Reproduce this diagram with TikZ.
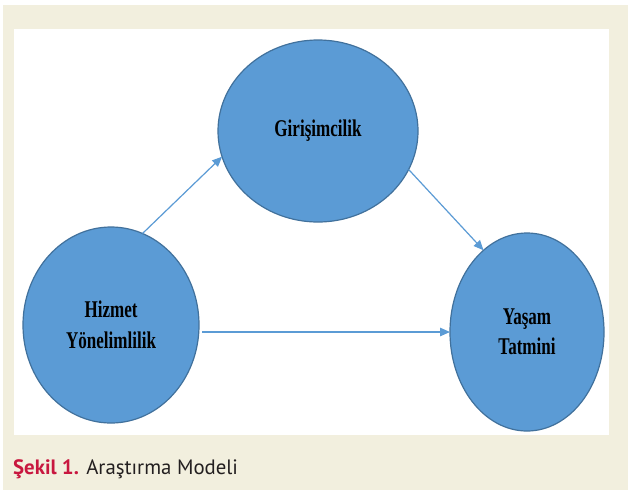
\documentclass[tikz,border=0pt]{standalone}
\usepackage{fontspec}
\usetikzlibrary{arrows.meta, shapes.geometric}
\newfontfamily\nodefont[FakeStretch=0.71]{Liberation Serif Bold}
\newfontfamily\capfont{PT Sans}
\definecolor{fond}{HTML}{F2EFDE}
\definecolor{bleu}{HTML}{5B9BD5}
\definecolor{bord}{HTML}{41719C}
\definecolor{titre}{HTML}{C8173F}
\definecolor{texte}{HTML}{231F20}
\tikzset{
  bulle/.style={ellipse, draw=bord, fill=bleu, line width=1.2pt, inner sep=0pt, outer sep=0pt,
    align=center, font=\nodefont\fontsize{24}{30.5}\selectfont},
  fleche/.style={draw=bleu, line width=1.2pt, -{Triangle[length=10pt,width=8.5pt]}}
}
\begin{document}
\begin{tikzpicture}[x=1pt, y=-1pt]
  % Fond
  \fill[white] (0,0) rectangle (628,490);
  \fill[fond] (3,5) rectangle (628,490);
  \fill[white] (14,29) rectangle (609,435);
  % Variables
  \node[bulle, minimum width=200pt, minimum height=182pt] (giri) at (318,131) {Girişimcilik};
  \node[bulle, minimum width=176pt, minimum height=196pt] (hizmet) at (111,325) {Hizmet\\Yönelimlilik};
  \node[bulle, minimum width=154pt, minimum height=198pt] (yasam) at (527,332) {Yaşam\\Tatmini};
  % Liens
  \draw[fleche] (hizmet.71) -- (giri.195);
  \draw[fleche] (giri.337) -- (yasam.118);
  \draw[fleche, shorten <=3pt] (yasam.west -| hizmet.east) -- (yasam.west);
  % Légende
  \node[anchor=base west, inner sep=0pt, font=\capfont\fontsize{20.8}{22}\selectfont, text=texte] (legende) at (13,474)
    {\textcolor{titre}{\bfseries Şekil 1.} Araştırma Modeli};
\end{tikzpicture}
\end{document}
